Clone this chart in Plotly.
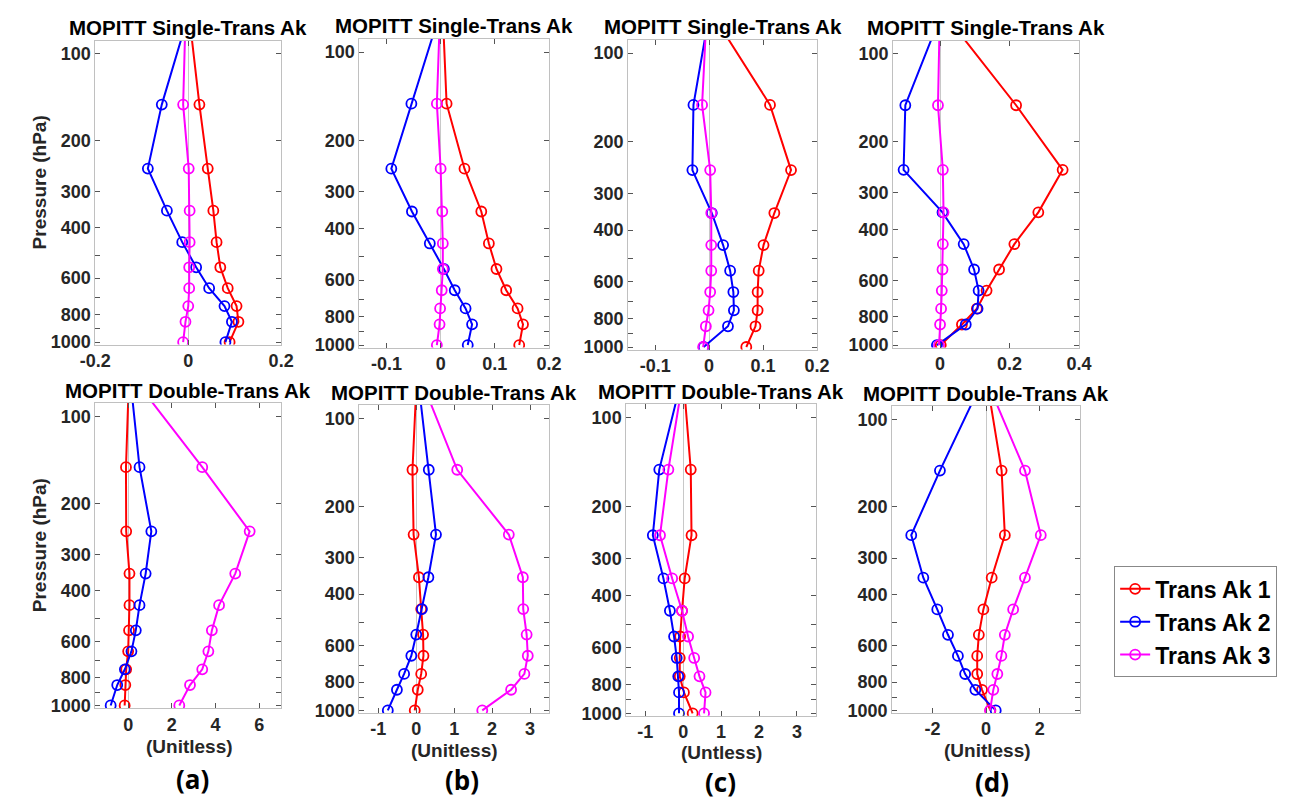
import math
import plotly.graph_objects as go

pressure = [50, 150, 250, 350, 450, 550, 650, 750, 850, 1000]

# Top row: MOPITT Single-Trans Ak
a_single_ak1 = [-0.010, 0.024, 0.042, 0.054, 0.061, 0.069, 0.085, 0.104, 0.108, 0.089]
a_single_ak2 = [0.031, -0.057, -0.087, -0.046, -0.013, 0.017, 0.045, 0.078, 0.094, 0.080]
a_single_ak3 = [-0.003, -0.011, 0.001, 0.003, 0.003, 0.002, 0.002, 0.000, -0.006, -0.011]

b_single_ak1 = [0.000, 0.011, 0.044, 0.075, 0.089, 0.103, 0.121, 0.142, 0.152, 0.145]
b_single_ak2 = [0.027, -0.054, -0.091, -0.053, -0.020, 0.006, 0.026, 0.046, 0.058, 0.050]
b_single_ak3 = [0.002, -0.007, 0.000, 0.003, 0.004, 0.004, 0.002, -0.001, -0.002, -0.007]

c_single_ak1 = [-0.052, 0.113, 0.152, 0.121, 0.101, 0.092, 0.090, 0.090, 0.086, 0.069]
c_single_ak2 = [0.016, -0.029, -0.031, 0.005, 0.026, 0.039, 0.045, 0.046, 0.035, -0.010]
c_single_ak3 = [0.000, -0.013, 0.002, 0.004, 0.004, 0.004, 0.002, -0.001, -0.006, -0.011]

d_single_ak1 = [-0.095, 0.219, 0.353, 0.283, 0.214, 0.170, 0.134, 0.106, 0.063, 0.002]
d_single_ak2 = [0.058, -0.100, -0.105, 0.007, 0.068, 0.098, 0.111, 0.108, 0.074, -0.009]
d_single_ak3 = [0.002, -0.006, 0.008, 0.010, 0.008, 0.007, 0.005, 0.003, 0.000, -0.003]

# Bottom row: MOPITT Double-Trans Ak
a_double_ak1 = [0.11, -0.10, -0.09, 0.06, 0.06, 0.04, 0.00, -0.09, -0.13, -0.16]
a_double_ak2 = [-0.14, 0.52, 1.06, 0.80, 0.52, 0.35, 0.15, -0.15, -0.50, -0.80]
a_double_ak3 = [-1.48, 3.39, 5.56, 4.90, 4.16, 3.83, 3.67, 3.39, 2.83, 2.34]

b_double_ak1 = [0.07, -0.10, -0.07, 0.07, 0.13, 0.18, 0.19, 0.13, 0.04, -0.04]
b_double_ak2 = [-0.10, 0.33, 0.52, 0.32, 0.15, 0.00, -0.13, -0.32, -0.51, -0.75]
b_double_ak3 = [-0.39, 1.08, 2.44, 2.81, 2.82, 2.91, 2.94, 2.85, 2.50, 1.74]

c_double_ak1 = [-0.10, 0.20, 0.22, 0.04, -0.03, -0.08, -0.09, -0.09, 0.02, 0.25]
c_double_ak2 = [0.29, -0.63, -0.80, -0.52, -0.35, -0.24, -0.17, -0.13, -0.11, -0.11]
c_double_ak3 = [0.21, -0.39, -0.61, -0.29, -0.03, 0.13, 0.29, 0.43, 0.59, 0.55]

d_double_ak1 = [-0.27, 0.58, 0.70, 0.21, -0.10, -0.27, -0.33, -0.33, -0.15, 0.16]
d_double_ak2 = [0.74, -1.72, -2.79, -2.34, -1.82, -1.42, -1.05, -0.78, -0.40, 0.36]
d_double_ak3 = [-0.75, 1.45, 2.04, 1.45, 1.01, 0.70, 0.57, 0.42, 0.27, 0.15]

series_names = ["Trans Ak 1", "Trans Ak 2", "Trans Ak 3"]
series_colors = ["#FF0000", "#0000FF", "#FF00FF"]

y_tickvals = [100, 200, 300, 400, 500, 600, 700, 800, 900, 1000]
y_ticktext = ["100", "200", "300", "400", "", "600", "", "800", "", "1000"]

panels = [
    # data, title, x range, x ticks, pixel box (x0, x1, y0, y1)
    ([a_single_ak1, a_single_ak2, a_single_ak3], "MOPITT Single-Trans Ak", [-0.2, 0.2],
     [-0.2, 0, 0.2], ["-0.2", "0", "0.2"], (73, 263, 33, 340)),
    ([b_single_ak1, b_single_ak2, b_single_ak3], "MOPITT Single-Trans Ak", [-0.15, 0.2],
     [-0.1, 0, 0.1, 0.2], ["-0.1", "0", "0.1", "0.2"], (343, 537, 31, 343)),
    ([c_single_ak1, c_single_ak2, c_single_ak3], "MOPITT Single-Trans Ak", [-0.15, 0.2],
     [-0.1, 0, 0.1, 0.2], ["-0.1", "0", "0.1", "0.2"], (618, 811, 32, 345)),
    ([d_single_ak1, d_single_ak2, d_single_ak3], "MOPITT Single-Trans Ak", [-0.135, 0.4],
     [0, 0.2, 0.4], ["0", "0.2", "0.4"], (889, 1079, 33, 343)),
    ([a_double_ak1, a_double_ak2, a_double_ak3], "MOPITT Double-Trans Ak", [-1.5, 7],
     [0, 2, 4, 6], ["0", "2", "4", "6"], (73, 263, 399, 707)),
    ([b_double_ak1, b_double_ak2, b_double_ak3], "MOPITT Double-Trans Ak", [-1.5, 3.5],
     [-1, 0, 1, 2, 3], ["-1", "0", "1", "2", "3"], (343, 537, 401, 712)),
    ([c_double_ak1, c_double_ak2, c_double_ak3], "MOPITT Double-Trans Ak", [-1.5, 3.5],
     [-1, 0, 1, 2, 3], ["-1", "0", "1", "2", "3"], (616, 810, 400, 715)),
    ([d_double_ak1, d_double_ak2, d_double_ak3], "MOPITT Double-Trans Ak", [-3.5, 3.5],
     [-2, 0, 2], ["-2", "0", "2"], (888, 1080, 402, 712)),
]

x_titles = ["(Unitless)", "(Unitless)", "(Untless)", "(Unitless)"]
panel_letters = ["(a)", "(b)", "(c)", "(d)"]

W, H = 1301, 800
fig = go.Figure()
layout = {}
annotations = []

FONT = "Liberation Sans, Arial, sans-serif"
tick_font = dict(family=FONT, size=18, color="#262626", weight="bold")
title_font = dict(family=FONT, size=20.5, color="#000000", weight="bold")

for i, (data, title, xr, xt, xtt, box) in enumerate(panels):
    n = i + 1
    xa = "x" if n == 1 else f"x{n}"
    ya = "y" if n == 1 else f"y{n}"
    x0, x1, y0, y1 = box
    for k in range(3):
        fig.add_trace(go.Scatter(
            x=data[k], y=pressure, xaxis=xa, yaxis=ya, mode="lines+markers",
            name=series_names[k], showlegend=(n == 1),
            line=dict(color=series_colors[k], width=2),
            marker=dict(symbol="circle-open", size=10, color=series_colors[k],
                        line=dict(width=1.8, color=series_colors[k])),
            cliponaxis=True,
        ))
    layout["xaxis" if n == 1 else f"xaxis{n}"] = dict(
        domain=[x0 / W, x1 / W], anchor=ya, range=xr,
        tickmode="array", tickvals=xt, ticktext=xtt,
        showgrid=False, zeroline=True, zerolinecolor="#c8c8c8", zerolinewidth=1.2,
        showline=True, linecolor="#c0c0c0", linewidth=1, mirror="ticks",
        ticks="inside", ticklen=5, tickcolor="#555555", tickfont=tick_font,
    )
    layout["yaxis" if n == 1 else f"yaxis{n}"] = dict(
        domain=[1 - y1 / H, 1 - y0 / H], anchor=xa, type="log",
        range=[math.log10(1020), math.log10(90)],
        tickmode="array", tickvals=y_tickvals, ticktext=y_ticktext,
        showgrid=False, zeroline=False,
        showline=True, linecolor="#c0c0c0", linewidth=1, mirror="ticks",
        ticks="inside", ticklen=5, tickcolor="#555555", tickfont=tick_font,
    )
    annotations.append(dict(
        text=title, xref="paper", yref="paper", x=(x0 + x1) / 2 / W, y=1 - (y0 - 13) / H,
        xanchor="center", yanchor="middle", showarrow=False, font=title_font,
    ))

# y-axis titles for the first column
for (y0, y1) in [(33, 340), (399, 707)]:
    annotations.append(dict(
        text="Pressure (hPa)", xref="paper", yref="paper", x=16 / W, y=1 - ((y0 + y1) / 2 - 10) / H,
        xanchor="center", yanchor="middle", textangle=-90, showarrow=False,
        font=dict(family=FONT, size=19, color="#262626", weight="bold"),
    ))

# x titles and panel letters under the bottom row
xt_pos = [(169, 746), (440, 750), (713, 752), (985, 750)]
letter_pos = [(172, 779), (448, 780), (712, 782), (990, 782)]
for j in range(4):
    annotations.append(dict(
        text=x_titles[j], xref="paper", yref="paper", x=xt_pos[j][0] / W, y=1 - xt_pos[j][1] / H,
        xanchor="center", yanchor="middle", showarrow=False,
        font=dict(family=FONT, size=19, color="#262626", weight="bold"),
    ))
    annotations.append(dict(
        text=panel_letters[j], xref="paper", yref="paper", x=letter_pos[j][0] / W, y=1 - letter_pos[j][1] / H,
        xanchor="center", yanchor="middle", showarrow=False,
        font=dict(family="Open Sans, sans-serif", size=26, color="#000000", weight="bold"),
    ))

fig.update_layout(
    width=W, height=H, margin=dict(l=0, r=0, t=0, b=0),
    paper_bgcolor="white", plot_bgcolor="white",
    annotations=annotations,
    legend=dict(x=1115 / W, y=1 - 564 / H, xanchor="left", yanchor="top",
                bordercolor="#888888", borderwidth=1, bgcolor="white",
                font=dict(family=FONT, size=23, color="#000000", weight="bold"),
                tracegroupgap=0, itemwidth=30),
    **layout,
)

fig.write_html("out.html")
